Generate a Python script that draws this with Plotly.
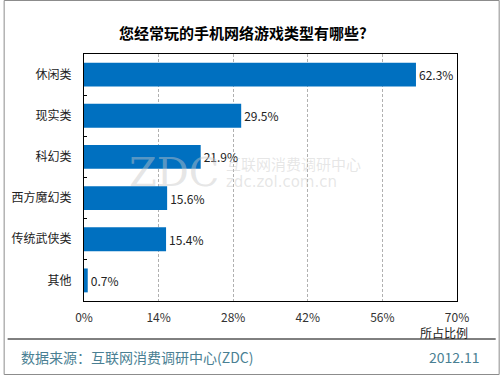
import plotly.graph_objects as go

categories = ["休闲类", "现实类", "科幻类", "西方魔幻类", "传统武侠类", "其他"]
values = [62.3, 29.5, 21.9, 15.6, 15.4, 0.7]
x_ticks = [0, 14, 28, 42, 56, 70]
x_tick_labels = ["0%", "14%", "28%", "42%", "56%", "70%"]

FONT = "Noto Sans CJK SC"
W, H = 500, 375
L, R, T, B = 81, 43, 54, 74
PW, PH = W - L - R, H - T - B

def px(x):
    return (x - L) / PW

def py(y):
    return (H - B - y) / PH

fig = go.Figure(go.Bar(
    y=categories, x=values, orientation="h",
    marker=dict(color="#0070C0", line=dict(width=0)),
    text=[f"{v}%" for v in values], textposition="outside",
    textfont=dict(family=FONT, size=12, color="#222222"),
    cliponaxis=False, width=0.58,
))

fig.update_layout(
    width=W, height=H,
    margin=dict(l=L, r=R, t=T, b=B),
    paper_bgcolor="white", plot_bgcolor="white",
    showlegend=False,
    font=dict(family=FONT, size=11, color="#222222"),
    xaxis=dict(
        range=[0, 70], tickvals=x_ticks, ticktext=x_tick_labels,
        showgrid=True, gridcolor="#b0b0b0", griddash="3px,2px", gridwidth=1,
        showline=True, linecolor="black", linewidth=1, mirror=True,
        ticks="", zeroline=False, fixedrange=True,
        tickfont=dict(size=12, color="#333333"), ticklabelstandoff=6,
    ),
    yaxis=dict(
        type="category", autorange="reversed",
        showgrid=False, showline=True, linecolor="black", linewidth=1, mirror=True,
        ticks="inside", ticklen=3, tickcolor="black", tickson="boundaries",
        tickfont=dict(size=12, color="#222222"), ticklabelstandoff=9,
        fixedrange=True,
    ),
    shapes=[
        dict(type="rect", xref="paper", yref="paper",
             x0=px(0.5), x1=px(W - 0.5), y0=py(H - 0.5), y1=py(0.5),
             line=dict(color="#8c8c8c", width=1), fillcolor="rgba(0,0,0,0)", layer="below"),
        dict(type="line", xref="paper", yref="paper",
             x0=px(4), x1=px(496), y0=py(339), y1=py(339),
             line=dict(color="black", width=1)),
    ],
    annotations=[
        dict(text="<b>您经常玩的手机网络游戏类型有哪些?</b>", xref="paper", yref="paper",
             x=px(241), y=py(33), showarrow=False, xanchor="center", yanchor="middle",
             font=dict(family=FONT, size=15, color="black")),
        dict(text="所占比例", xref="paper", yref="paper",
             x=px(444), y=py(332), showarrow=False, xanchor="center", yanchor="middle",
             font=dict(family=FONT, size=12, color="#222222")),
        dict(text="数据来源：互联网消费调研中心(ZDC)", xref="paper", yref="paper",
             x=px(15), y=py(357), showarrow=False, xanchor="left", yanchor="middle",
             font=dict(family=FONT, size=14, color="#4a7f93")),
        dict(text="2012.11", xref="paper", yref="paper",
             x=px(482), y=py(357), showarrow=False, xanchor="right", yanchor="middle",
             font=dict(family=FONT, size=14, color="#4a7f93")),
        dict(text="ZDC", xref="paper", yref="paper",
             x=px(172), y=py(172), showarrow=False, xanchor="center", yanchor="middle",
             font=dict(family="DejaVu Serif", size=40, color="rgba(200,200,200,0.45)")),
        dict(text="互联网消费调研中心", xref="paper", yref="paper",
             x=px(222), y=py(163), showarrow=False, xanchor="left", yanchor="middle",
             font=dict(family=FONT, size=15, color="rgba(200,200,200,0.45)")),
        dict(text="zdc.zol.com.cn", xref="paper", yref="paper",
             x=px(222), y=py(182), showarrow=False, xanchor="left", yanchor="middle",
             font=dict(family="DejaVu Sans", size=15, color="rgba(200,200,200,0.45)")),
    ],
)

fig.write_html("out.html", config={"displayModeBar": False},
               post_script="document.body.style.margin='0';document.body.style.overflow='hidden';")
